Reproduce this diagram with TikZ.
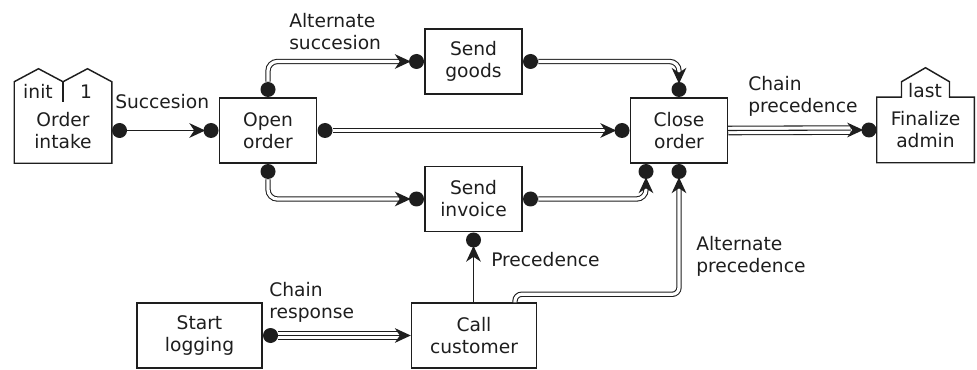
\documentclass[tikz,border=0pt]{standalone}
\usepackage{fontspec}
\setmainfont{DejaVu Sans}
\usetikzlibrary{calc}
\definecolor{ink}{HTML}{1E1E1E}
\tikzset{
  txt/.style={font=\fontsize{14}{16.5}\selectfont, text=ink},
  box/.style={txt, draw=ink, line width=1.1pt, minimum width=72.75pt, minimum height=48.75pt, align=center, inner sep=0pt},
  widebox/.style={box, minimum width=93.75pt},
  shell/.style={txt, minimum width=72.75pt, minimum height=48.75pt, align=center, inner sep=0pt},
  outline/.style={draw=ink, line width=1.1pt, line join=miter},
  bullet/.style={circle, fill=ink, inner sep=0pt, minimum size=11.25pt},
  lbl/.style={txt, align=left, inner sep=0pt},
  sgl/.style={draw=ink, line width=1pt, shorten >=6pt},
  dbl/.style={draw=ink, double=white, line width=0.8pt, double distance=2.4pt, shorten >=7pt},
  trp/.style={draw=ink, double=white, line width=0.8pt, double distance=5.6pt, shorten >=8pt},
  midline/.style={draw=ink, line width=0.8pt, shorten >=8pt},
  arrowtip/.pic={\fill[ink] (2,0) -- (-14,7.4) -- (-9,0) -- (-14,-7.4) -- cycle;}
}
\begin{document}
\begin{tikzpicture}[x=0.75pt,y=-0.75pt]
\useasboundingbox (0,0) rectangle (977,370);
% boxes
\node[box] (open) at (268,130.5) {Open\\order};
\node[box] (close) at (679,130.5) {Close\\order};
\node[box] (goods) at (473.5,61.5) {Send\\goods};
\node[box] (invoice) at (473.5,199) {Send\\invoice};
\node[widebox] (call) at (474,335.5) {Call\\customer};
\node[widebox] (start) at (199.5,335.5) {Start\\logging};
\node[shell] (intake) at (63,130.5) {Order\\intake};
\node[shell] (fin) at (925.5,130) {Finalize\\admin};
% special outlines
\draw[outline] (intake.south west) -- ($(intake.north west)+(0,-16)$) -- ($(intake.north)+(-24.5,-29)$) -- ($(intake.north)+(0,-16)$) -- ($(intake.north)+(24.5,-29)$) -- ($(intake.north east)+(0,-16)$) -- (intake.south east) -- cycle;
\draw[outline] ($(intake.north)+(0,-16)$) -- ($(intake.north)+(0,4)$);
\draw[outline] (fin.south west) -- (fin.north west) -- ($(fin.north)+(-24,0)$) -- ++(0,-15.5) -- ++(24,-14) -- ++(24,14) -- ++(0,15.5) -- (fin.north east) -- (fin.south east) -- cycle;
\node[lbl] (linit) at (38,91.5) {init};
\node[lbl] (lone) at (86,92) {1};
\node[lbl] (llast) at (925,91) {last};
% dots
\node[bullet, anchor=west] (dIntakeE) at (intake.east) {};
\node[bullet, anchor=east] (dOpenW) at (open.west) {};
\node[bullet, anchor=south] (dOpenN) at (open.north) {};
\node[bullet, anchor=north] (dOpenS) at (open.south) {};
\node[bullet, anchor=west] (dOpenE) at (open.east) {};
\node[bullet, anchor=east] (dGoodsW) at (goods.west) {};
\node[bullet, anchor=west] (dGoodsE) at (goods.east) {};
\node[bullet, anchor=east] (dInvW) at (invoice.west) {};
\node[bullet, anchor=west] (dInvE) at (invoice.east) {};
\node[bullet, anchor=north] (dInvS) at (invoice.south) {};
\node[bullet, anchor=east] (dCloseW) at (close.west) {};
\node[bullet, anchor=south] (dCloseN) at (close.north) {};
\node[bullet, anchor=north] (dCloseSW) at ($(close.south)+(-33,0)$) {};
\node[bullet, anchor=north] (dCloseS) at (close.south) {};
\node[bullet, anchor=east] (dFinW) at (fin.west) {};
\node[bullet, anchor=west] (dStartE) at (start.east) {};
% connectors
\draw[sgl] (dIntakeE) -- (dOpenW);
\pic at (dOpenW.west) {arrowtip};
\draw[dbl, rounded corners=7pt] (dOpenN) |- (dGoodsW);
\pic at (dGoodsW.west) {arrowtip};
\draw[dbl] (dOpenE) -- (dCloseW);
\pic at (dCloseW.west) {arrowtip};
\draw[dbl, rounded corners=7pt] (dOpenS) |- (dInvW);
\pic at (dInvW.west) {arrowtip};
\draw[dbl, rounded corners=7pt] (dGoodsE) -| (dCloseN);
\pic[rotate=-90] at (dCloseN.north) {arrowtip};
\draw[dbl, rounded corners=7pt] (dInvE) -| (dCloseSW);
\pic[rotate=90] at (dCloseSW.south) {arrowtip};
\coordinate (apStart) at ($(call.north)+(41,0)$);
\draw[dbl, rounded corners=5pt] (apStart) -- ++(0,-8) -| (dCloseS);
\pic[rotate=90] at (dCloseS.south) {arrowtip};
\draw[sgl] (dInvS |- call.north) -- (dInvS);
\pic[rotate=90] at (dInvS.south) {arrowtip};
\draw[trp] (dStartE) -- (call.west);
\draw[midline] (dStartE) -- (call.west);
\pic at ($(call.west)+(-2,0)$) {arrowtip};
\draw[trp] (close.east) -- (dFinW);
\draw[midline] (close.east) -- (dFinW);
\pic at (dFinW.west) {arrowtip};
% labels
\node[lbl, anchor=west] (lsucc) at (115,102) {Succesion};
\node[lbl, anchor=west] (lalts) at (289,32) {Alternate\\succesion};
\node[lbl, anchor=west] (lchp) at (748,96) {Chain\\precedence};
\node[lbl, anchor=west] (lchr) at (269,302) {Chain\\response};
\node[lbl, anchor=west] (lprec) at (491,260) {Precedence};
\node[lbl, anchor=west] (laltp) at (696,256.5) {Alternate\\precedence};
\end{tikzpicture}
\end{document}
